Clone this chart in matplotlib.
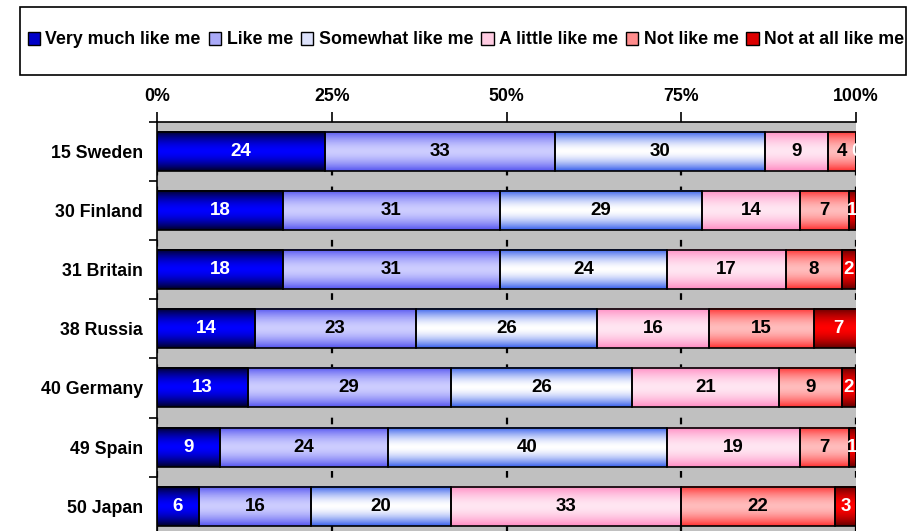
import numpy as np
import matplotlib.pyplot as plt
from matplotlib.patches import Patch, Rectangle

plt.rcParams["font.family"] = ["Liberation Sans", "DejaVu Sans"]
plt.rcParams["font.weight"] = "bold"

countries = ["15 Sweden", "30 Finland", "31 Britain", "38 Russia",
             "40 Germany", "49 Spain", "50 Japan"]
series_names = ["Very much like me", "Like me", "Somewhat like me",
                "A little like me", "Not like me", "Not at all like me"]

very_much = [24, 18, 18, 14, 13, 9, 6]
like_me = [33, 31, 31, 23, 29, 24, 16]
somewhat = [30, 29, 24, 26, 26, 40, 20]
a_little = [9, 14, 17, 16, 21, 19, 33]
not_like = [4, 7, 8, 15, 9, 7, 22]
not_at_all = [0, 1, 2, 7, 2, 1, 3]

series = [very_much, like_me, somewhat, a_little, not_like, not_at_all]

# (edge colour, centre colour) of each vertical gradient, plus legend swatch
edge_cols = [(0, 0, 40), (85, 85, 240), (55, 95, 235),
             (255, 140, 195), (255, 50, 50), (100, 0, 0)]
centre_cols = [(0, 0, 255), (205, 205, 255), (255, 255, 255),
               (255, 230, 242), (255, 188, 188), (255, 0, 0)]
swatch_cols = ["#0000c8", "#aaaaf8", "#dde2fb", "#ffcce2", "#ff8c8c", "#dd0000"]
text_cols = ["white", "black", "black", "black", "black", "white"]


def gradient(edge, centre, n=64):
    t = np.abs(np.linspace(-1, 1, n)) ** 1.7
    e = np.array(edge) / 255.0
    c = np.array(centre) / 255.0
    return (c + (e - c) * t[:, None])[:, None, :]


fig = plt.figure(figsize=(9.22, 5.31), dpi=100)
ax = fig.add_axes([157 / 922, 0, 699 / 922, 409 / 531])
ax.set_facecolor("#c0c0c0")

rows = np.arange(len(countries))
h = 0.66
left = np.zeros(len(countries))
for k, vals in enumerate(series):
    vals = np.array(vals, dtype=float)
    img = gradient(edge_cols[k], centre_cols[k])
    for r in rows:
        if vals[r] > 0:
            ax.imshow(img, extent=(left[r], left[r] + vals[r], r + h / 2, r - h / 2),
                      aspect="auto", interpolation="bilinear", zorder=2)
    ax.barh(rows, vals, left=left, height=h, fill=False,
            edgecolor="black", linewidth=1.2, zorder=3)
    for r in rows:
        ax.text(left[r] + vals[r] / 2, r, f"{int(vals[r])}", ha="center",
                va="center", fontsize=13.5, fontweight="bold",
                color=text_cols[k], zorder=4, clip_on=True)
    left += vals

ax.set_xlim(0, 100)
ax.set_ylim(6.42, -0.5)

ax.xaxis.tick_top()
ax.set_xticks([0, 25, 50, 75, 100])
ax.set_xticklabels(["0%", "25%", "50%", "75%", "100%"])
ax.tick_params(axis="x", which="major", direction="out", length=7, width=1.2,
               pad=5.5, labelsize=12.8)
ax.xaxis.grid(True, color="black", linestyle=(0, (3, 5)), linewidth=1.6)
ax.set_axisbelow(True)

ax.set_yticks(rows - 0.5)
ax.set_yticklabels([])
ax.set_yticks(rows, minor=True)
ax.set_yticklabels(countries, minor=True)
ax.tick_params(axis="y", which="major", direction="out", length=6, width=1.2)
ax.tick_params(axis="y", which="minor", length=0, pad=10, labelsize=12.8)

for side in ("right", "bottom"):
    ax.spines[side].set_visible(False)
for side in ("top", "left"):
    ax.spines[side].set_linewidth(1.2)

handles = [Patch(facecolor=c, edgecolor="black", linewidth=1) for c in swatch_cols]
fig.legend(handles, series_names, loc="center", bbox_to_anchor=(466 / 922, 1 - 40 / 531),
           ncol=6, frameon=False, fontsize=12.8, handlelength=0.7, handleheight=0.7,
           handletextpad=0.3, columnspacing=0.45, borderaxespad=0)
fig.patches.append(Rectangle((20 / 922, 1 - 75 / 531), 886 / 922, 68 / 531,
                             transform=fig.transFigure, fill=False,
                             edgecolor="black", linewidth=1.2))

fig.savefig("out.png", dpi=100)
